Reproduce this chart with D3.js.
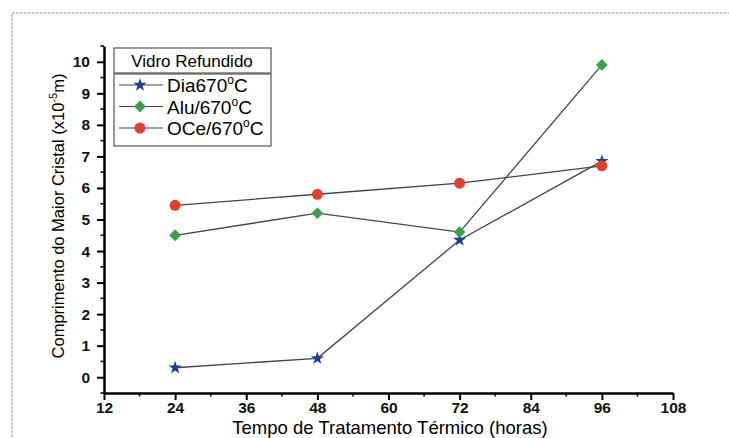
<!DOCTYPE html>
<html>
<head>
<meta charset="utf-8">
<script src="https://cdn.jsdelivr.net/npm/d3@7"></script>
<style>
body { margin: 0; background: #fff; }
svg { display: block; font-family: "Liberation Sans", Arial, sans-serif; }
</style>
</head>
<body>
<svg id="chart" width="729" height="438"></svg>
<script>
// data
var hours = [24, 48, 72, 96];
var diaValues = [0.3, 0.6, 4.35, 6.85];
var aluValues = [4.5, 5.2, 4.6, 9.9];
var oceValues = [5.45, 5.8, 6.15, 6.7];
var seriesNames = ["Dia670°C", "Alu/670°C", "OCe/670°C"];
var xTicks = [12, 24, 36, 48, 60, 72, 84, 96, 108];
var yTicks = [0, 1, 2, 3, 4, 5, 6, 7, 8, 9, 10];

var svg = d3.select("#chart");
var font = "'Liberation Sans', Arial, sans-serif";

// dashed frame around the figure
svg.append("rect")
	.attr("x", 12).attr("y", 13)
	.attr("width", 740).attr("height", 460)
	.attr("fill", "none")
	.attr("stroke", "#999")
	.attr("stroke-dasharray", "3,1");

var x = d3.scaleLinear().domain([12, 108]).range([104, 673]);
var y = d3.scaleLinear().domain([-0.5, 10.5]).range([393, 46]);

// minor ticks
svg.append("g").selectAll("line").data(d3.range(18, 108, 12))
	.enter().append("line")
	.attr("x1", function (d) { return x(d); }).attr("x2", function (d) { return x(d); })
	.attr("y1", y(-0.5)).attr("y2", y(-0.5) + 3.5)
	.attr("stroke", "#000").attr("stroke-width", 1.6);
svg.append("g").selectAll("line").data(d3.range(-0.5, 10.6, 1))
	.enter().append("line")
	.attr("y1", function (d) { return y(d); }).attr("y2", function (d) { return y(d); })
	.attr("x1", x(12)).attr("x2", x(12) - 3.5)
	.attr("stroke", "#000").attr("stroke-width", 1.6);

var xAxis = svg.append("g")
	.attr("transform", "translate(0," + y(-0.5) + ")")
	.call(d3.axisBottom(x).tickValues(xTicks).tickSize(7).tickPadding(2).tickSizeOuter(0));
var yAxis = svg.append("g")
	.attr("transform", "translate(" + x(12) + ",0)")
	.call(d3.axisLeft(y).tickValues(yTicks).tickSize(7).tickPadding(7).tickSizeOuter(0));

[xAxis, yAxis].forEach(function (a) {
	a.select(".domain").attr("stroke", "#000").attr("stroke-width", 2.5);
	a.selectAll(".tick line").attr("stroke", "#000").attr("stroke-width", 2);
	a.selectAll(".tick text")
		.attr("fill", "#111")
		.style("font-size", "15.5px")
		.style("font-weight", "bold")
		.style("font-family", font);
});

// axis titles
svg.append("text")
	.attr("x", 390).attr("y", 434)
	.attr("text-anchor", "middle")
	.style("font-size", "18.5px")
	.style("font-family", font)
	.attr("fill", "#000")
	.text("Tempo de Tratamento Térmico (horas)");

var yTitle = svg.append("text")
	.attr("transform", "translate(64,216) rotate(-90)")
	.attr("text-anchor", "middle")
	.style("font-size", "16.5px")
	.style("font-family", font)
	.attr("fill", "#000");
yTitle.append("tspan").text("Comprimento do Maior Cristal (x10");
yTitle.append("tspan").attr("dy", -7).style("font-size", "11px").text("-5");
yTitle.append("tspan").attr("dy", 7).text("m)");

// series
var series = [
	{ name: seriesNames[0], values: diaValues, color: "#1c3d94", shape: d3.symbolStar, size: 55, rot: 0 },
	{ name: seriesNames[1], values: aluValues, color: "#3d9e4b", shape: d3.symbolSquare, size: 70, rot: 45 },
	{ name: seriesNames[2], values: oceValues, color: "#e2402c", shape: d3.symbolCircle, size: 95, rot: 0 }
];

var line = d3.line()
	.x(function (d, i) { return x(hours[i]); })
	.y(function (d) { return y(d); });

series.forEach(function (s) {
	svg.append("path")
		.datum(s.values)
		.attr("d", line)
		.attr("fill", "none")
		.attr("stroke", "#444")
		.attr("stroke-width", 1.3);
});
series.forEach(function (s) {
	svg.append("g").selectAll("path").data(s.values)
		.enter().append("path")
		.attr("d", d3.symbol().type(s.shape).size(s.size))
		.attr("transform", function (d, i) { return "translate(" + x(hours[i]) + "," + y(d) + ") rotate(" + s.rot + ")"; })
		.attr("fill", s.color);
});

// legend
var legend = svg.append("g").style("font-family", font);
legend.append("rect")
	.attr("x", 114).attr("y", 48).attr("width", 157).attr("height", 25)
	.attr("fill", "#fff").attr("stroke", "#555").attr("stroke-width", 1.2);
legend.append("text")
	.attr("x", 192).attr("y", 67)
	.attr("text-anchor", "middle")
	.style("font-size", "17px")
	.attr("fill", "#000")
	.text("Vidro Refundido");
legend.append("rect")
	.attr("x", 114).attr("y", 74).attr("width", 157).attr("height", 72)
	.attr("fill", "#fff").attr("stroke", "#555").attr("stroke-width", 1.2);

series.forEach(function (s, i) {
	var ly = 85 + i * 21.5;
	legend.append("line")
		.attr("x1", 119).attr("x2", 163)
		.attr("y1", ly).attr("y2", ly)
		.attr("stroke", "#444").attr("stroke-width", 1.2);
	legend.append("path")
		.attr("d", d3.symbol().type(s.shape).size(s.size))
		.attr("transform", "translate(140," + ly + ") rotate(" + s.rot + ")")
		.attr("fill", s.color);
	var t = legend.append("text")
		.attr("x", 167).attr("y", ly + 7)
		.style("font-size", "19px")
		.attr("fill", "#000");
	var parts = s.name.split("°");
	t.append("tspan").text(parts[0]);
	t.append("tspan").attr("dy", -8).style("font-size", "12px").text("o");
	t.append("tspan").attr("dy", 8).text(parts[1]);
});
</script>
</body>
</html>
